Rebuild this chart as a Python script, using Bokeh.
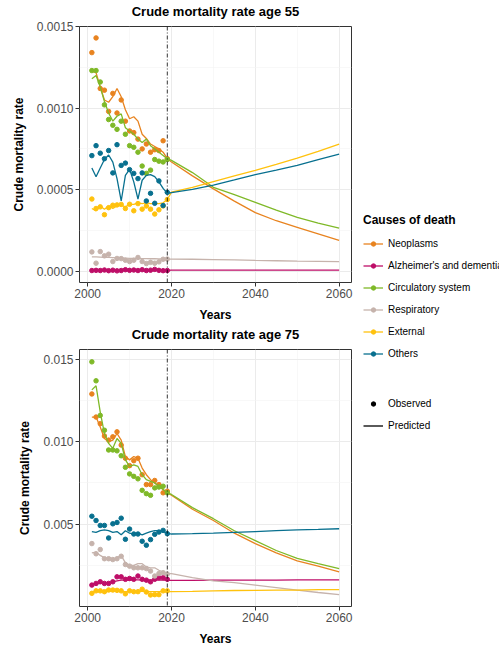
from bokeh.plotting import figure
from bokeh.models import Range1d, FixedTicker, PrintfTickFormatter, Span, Legend, LegendItem, Title
from bokeh.layouts import row, column
from bokeh.embed import file_html
from bokeh.resources import INLINE

FONT = "Liberation Sans"

years_obs = list(range(2001, 2020))
years_proj = [2020, 2025, 2030, 2035, 2040, 2045, 2050, 2055, 2060]

causes = ["Neoplasms", "Alzheimer's and dementia", "Circulatory system",
          "Respiratory", "External", "Others"]
colors = ["#E8831F", "#BE0E68", "#7FB928", "#C6B3AC", "#FFC20E", "#08708F"]

# ---- Age 55 (values per 10,000) ----
scale55 = 1e-4
obs55 = {
    "Neoplasms": [13.4, 14.3, 11.2, 11.1, 9.8, 10.9, 9.7, 10.5, 9.2, 8.6, 8.5, 8.1, 7.5, 7.8, 7.3, 7.45, 7.4, 8.0, 6.9],
    "Alzheimer's and dementia": [0.05, 0.06, 0.05, 0.08, 0.04, 0.07, 0.03, 0.05, 0.1, 0.06, 0.08, 0.05, 0.1, 0.05, 0.07, 0.12, 0.06, 0.04, 0.05],
    "Circulatory system": [12.3, 12.3, 11.6, 10.2, 9.3, 8.95, 8.7, 9.2, 8.4, 7.7, 7.6, 7.3, 6.45, 6.0, 6.2, 6.85, 6.75, 6.7, 6.85],
    "Respiratory": [1.19, 0.5, 1.21, 0.95, 1.05, 0.6, 0.79, 0.78, 0.68, 0.6, 0.68, 0.85, 0.6, 0.48, 0.55, 0.5, 0.58, 0.74, 0.75],
    "External": [4.43, 3.85, 3.95, 3.47, 3.9, 4.05, 4.07, 4.1, 3.85, 4.11, 3.71, 4.15, 3.81, 4.0, 3.81, 3.51, 3.77, 4.01, 4.4],
    "Others": [7.09, 7.7, 7.24, 6.9, 7.4, 6.03, 7.76, 6.49, 6.63, 6.23, 6.0, 5.68, 6.03, 4.31, 4.78, 4.17, 5.54, 4.03, 4.84],
}
fit55 = {
    "Neoplasms": [12.27, 12.17, 11.3, 10.5, 10.36, 10.7, 11.2, 10.7, 9.9, 9.35, 9.47, 9.2, 8.4, 8.14, 7.8, 7.65, 7.5, 7.3, 6.9],
    "Alzheimer's and dementia": [0.06, 0.06, 0.06, 0.06, 0.06, 0.06, 0.06, 0.06, 0.06, 0.06, 0.06, 0.06, 0.06, 0.06, 0.06, 0.06, 0.06, 0.06, 0.06],
    "Circulatory system": [11.8, 12.0, 11.3, 10.4, 9.7, 9.2, 9.5, 9.65, 8.8, 8.6, 8.4, 8.1, 7.9, 8.1, 7.7, 7.5, 7.3, 7.1, 6.9],
    "Respiratory": [0.88, 0.88, 0.87, 0.86, 0.85, 0.84, 0.83, 0.82, 0.81, 0.8, 0.8, 0.79, 0.78, 0.78, 0.77, 0.77, 0.76, 0.76, 0.75],
    "External": [3.85, 3.7, 4.0, 3.8, 4.0, 3.85, 4.0, 4.05, 3.95, 4.1, 4.1, 4.2, 4.15, 4.2, 4.15, 4.15, 4.15, 4.2, 4.4],
    "Others": [6.33, 5.79, 6.33, 6.85, 7.13, 6.69, 5.68, 4.31, 5.88, 6.25, 5.48, 4.43, 5.58, 5.88, 5.92, 5.8, 5.48, 5.08, 4.78],
}
proj55 = {
    "Neoplasms": [6.7, 5.85, 5.05, 4.3, 3.6, 3.1, 2.7, 2.3, 1.9],
    "Alzheimer's and dementia": [0.07, 0.07, 0.07, 0.07, 0.07, 0.07, 0.07, 0.07, 0.07],
    "Circulatory system": [6.8, 6.05, 5.15, 4.7, 4.23, 3.75, 3.3, 2.95, 2.65],
    "Respiratory": [0.75, 0.74, 0.72, 0.7, 0.67, 0.65, 0.62, 0.61, 0.6],
    "External": [4.85, 5.15, 5.5, 5.85, 6.18, 6.55, 6.93, 7.35, 7.8],
    "Others": [4.82, 5.02, 5.28, 5.6, 5.93, 6.2, 6.49, 6.85, 7.18],
}

# ---- Age 75 (values per 1,000) ----
scale75 = 1e-3
obs75 = {
    "Neoplasms": [12.9, 11.5, 11.1, 10.35, 10.1, 10.3, 10.6, 9.8, 9.0, 8.55, 8.85, 9.0, 8.0, 7.4, 7.4, 7.65, 7.4, 6.9, 7.0],
    "Alzheimer's and dementia": [1.3, 1.4, 1.5, 1.4, 1.4, 1.5, 1.8, 1.8, 1.65, 1.7, 1.65, 1.85, 1.65, 1.6, 1.5, 1.65, 1.75, 1.75, 1.65],
    "Circulatory system": [14.85, 13.7, 11.6, 10.7, 9.5, 9.5, 9.45, 9.15, 8.45, 8.05, 7.9, 7.75, 7.05, 6.85, 6.75, 7.2, 7.25, 7.3, 6.9],
    "Respiratory": [3.82, 3.2, 3.46, 2.9, 2.9, 2.85, 2.9, 3.05, 2.55, 2.45, 2.35, 2.35, 2.35, 2.3, 2.15, 1.85, 2.0, 2.05, 1.97],
    "External": [0.8, 0.95, 0.95, 0.9, 1.0, 1.0, 0.98, 0.95, 0.77, 0.95, 0.9, 0.9, 1.05, 0.88, 0.7, 0.72, 0.72, 0.95, 0.95],
    "Others": [5.48, 5.22, 4.92, 4.92, 4.16, 5.02, 5.1, 5.36, 4.08, 4.7, 4.4, 4.4, 3.96, 3.72, 4.06, 4.38, 4.52, 4.62, 4.42],
}
fit75 = {
    "Neoplasms": [11.5, 11.5, 10.9, 10.2, 10.0, 10.1, 10.5, 10.1, 9.1, 8.9, 9.1, 9.0, 8.4, 8.0, 7.7, 7.5, 7.3, 7.1, 6.9],
    "Alzheimer's and dementia": [1.35, 1.38, 1.42, 1.45, 1.45, 1.5, 1.55, 1.6, 1.6, 1.6, 1.62, 1.62, 1.6, 1.6, 1.6, 1.6, 1.6, 1.6, 1.58],
    "Circulatory system": [13.15, 13.4, 11.8, 10.5, 9.9, 9.6, 10.2, 9.9, 8.9, 8.5, 8.6, 8.5, 8.0, 7.7, 7.6, 7.5, 7.3, 7.1, 6.9],
    "Respiratory": [3.25, 3.3, 3.1, 2.95, 2.85, 2.8, 2.95, 3.1, 2.65, 2.5, 2.5, 2.6, 2.6, 2.4, 2.35, 2.35, 2.2, 2.1, 2.0],
    "External": [0.88, 0.9, 0.92, 0.9, 0.92, 0.93, 0.93, 0.92, 0.9, 0.9, 0.9, 0.92, 0.92, 0.9, 0.9, 0.9, 0.9, 0.9, 0.9],
    "Others": [4.55, 4.5, 4.6, 4.65, 4.6, 4.5, 4.55, 4.35, 4.6, 4.45, 4.4, 4.45, 4.35, 4.45, 4.55, 4.6, 4.6, 4.55, 4.45],
}
proj75 = {
    "Neoplasms": [6.75, 5.9, 5.22, 4.45, 3.82, 3.25, 2.77, 2.45, 2.1],
    "Alzheimer's and dementia": [1.58, 1.58, 1.6, 1.6, 1.6, 1.6, 1.62, 1.62, 1.62],
    "Circulatory system": [6.8, 6.0, 5.33, 4.6, 4.0, 3.4, 2.92, 2.6, 2.3],
    "Respiratory": [2.0, 1.75, 1.55, 1.45, 1.3, 1.15, 1.0, 0.85, 0.72],
    "External": [0.9, 0.92, 0.95, 0.97, 0.98, 1.0, 1.0, 1.02, 1.02],
    "Others": [4.4, 4.42, 4.45, 4.5, 4.55, 4.6, 4.65, 4.68, 4.72],
}

x_ticks = [2000, 2020, 2040, 2060]
x_minor = [2010, 2030, 2050]
y55_ticks = [0.0, 0.0005, 0.0010, 0.0015]
y55_minor = [0.00025, 0.00075, 0.00125]
y75_ticks = [0.005, 0.010, 0.015]
y75_minor = [0.0025, 0.0075, 0.0125]
split_year = 2019


def make_panel(title, obs, fit, proj, scale, yr, yticks, yminor, yfmt,
               height, btop, bleft, fw, bbottom, gap):
    p = figure(width=bleft + fw + 9, height=height,
               x_range=Range1d(1998.05, 2062.95), y_range=Range1d(*yr),
               toolbar_location=None, output_backend="svg",
               min_border_left=bleft, min_border_right=9,
               min_border_top=btop, min_border_bottom=bbottom)
    p.title = None
    # small blank spacer between the frame and the title
    p.add_layout(Title(text=" ", text_font_size=gap, standoff=0), "above")
    p.add_layout(Title(text=title, align="center", text_font=FONT,
                       text_font_size="13px", text_font_style="bold",
                       text_color="black", standoff=0), "above")
    p.background_fill_color = "white"
    p.border_fill_color = "white"
    p.outline_line_color = "#333333"
    p.outline_line_width = 1

    p.xaxis.ticker = FixedTicker(ticks=x_ticks, minor_ticks=x_minor)
    p.yaxis.ticker = FixedTicker(ticks=yticks, minor_ticks=yminor)
    p.yaxis.formatter = PrintfTickFormatter(format=yfmt)
    p.xaxis.axis_label = "Years"
    p.yaxis.axis_label = "Crude mortality rate"
    for ax in (p.xaxis, p.yaxis):
        ax.axis_line_color = None
        ax.major_tick_line_color = "#333333"
        ax.major_tick_out = 4
        ax.major_tick_in = 0
        ax.minor_tick_line_color = None
        ax.major_label_text_font = FONT
        ax.major_label_text_font_size = "12px"
        ax.major_label_text_color = "#4D4D4D"
        ax.major_label_standoff = 2
        ax.axis_label_text_font = FONT
        ax.axis_label_text_font_size = "12px"
        ax.axis_label_text_font_style = "bold"
        ax.axis_label_text_color = "black"
        ax.axis_label_standoff = 8
    p.xaxis.axis_label_standoff = 7
    for g in (p.xgrid, p.ygrid):
        g.grid_line_color = "#EBEBEB"
        g.grid_line_width = 1
        g.minor_grid_line_color = "#F3F3F3"
        g.minor_grid_line_width = 0.6

    for name, c in zip(causes, colors):
        xs = years_obs + years_proj
        ys = [v * scale for v in fit[name] + proj[name]]
        p.line(xs, ys, line_color=c, line_width=1.3)
        p.scatter(years_obs, [v * scale for v in obs[name]], size=4.5,
                  fill_color=c, line_color=c)
    p.add_layout(Span(location=split_year, dimension="height",
                      line_color="black", line_width=0.8,
                      line_dash="4 2 1 2"))
    return p


p1 = make_panel("Crude mortality rate age 55", obs55, fit55, proj55, scale55,
                (-0.0000684, 0.0015), y55_ticks, y55_minor, "%.4f",
                324, 26, 79, 272, 39, "6px")
p2 = make_panel("Crude mortality rate age 75", obs75, fit75, proj75, scale75,
                (0.0, 0.0156), y75_ticks, y75_minor, "%.3f",
                324, 23, 72, 279, 42, "5px")

leg = figure(width=139, height=648, x_range=Range1d(0, 1), y_range=Range1d(0, 1),
             toolbar_location=None, output_backend="svg", min_border=0,
             x_axis_location=None, y_axis_location=None)
leg.outline_line_color = None
leg.grid.visible = False

# hidden placeholder renderers (outside the visible range) feed the legend keys
hide_x = [5.0]
hide_y = [5.0]
items = []
for name, c in zip(causes, colors):
    rl = leg.line(x=hide_x, y=hide_y, line_color=c, line_width=1.3)
    rp = leg.scatter(x=hide_x, y=hide_y, fill_color=c, line_color=c, size=4)
    items.append(LegendItem(label=name, renderers=[rl, rp]))

rdot = leg.scatter(x=hide_x, y=hide_y, fill_color="black", line_color="black", size=4.5)
rln = leg.line(x=hide_x, y=hide_y, line_color="black", line_width=1.3)
items2 = [LegendItem(label="Observed", renderers=[rdot]),
          LegendItem(label="Predicted", renderers=[rln])]


def style_legend(lg):
    lg.label_text_font = FONT
    lg.label_text_font_size = "10px"
    lg.label_text_color = "black"
    lg.glyph_width = 20
    lg.glyph_height = 11
    lg.label_height = 20
    lg.spacing = 2
    lg.padding = 0
    lg.margin = 0
    lg.label_standoff = 5
    lg.border_line_color = None
    lg.background_fill_alpha = 0
    lg.title_text_font = FONT
    lg.title_text_font_size = "12px"
    lg.title_text_font_style = "bold"
    lg.title_text_color = "black"
    lg.title_standoff = 6


lg1 = Legend(items=items, location=(3, 285), title="Causes of death")
style_legend(lg1)
lg2 = Legend(items=items2, location=(3, 213))
style_legend(lg2)
leg.add_layout(lg1)
leg.add_layout(lg2)

layout = row(column(p1, p2), leg)
open("out.html", "w").write(file_html(layout, INLINE))
